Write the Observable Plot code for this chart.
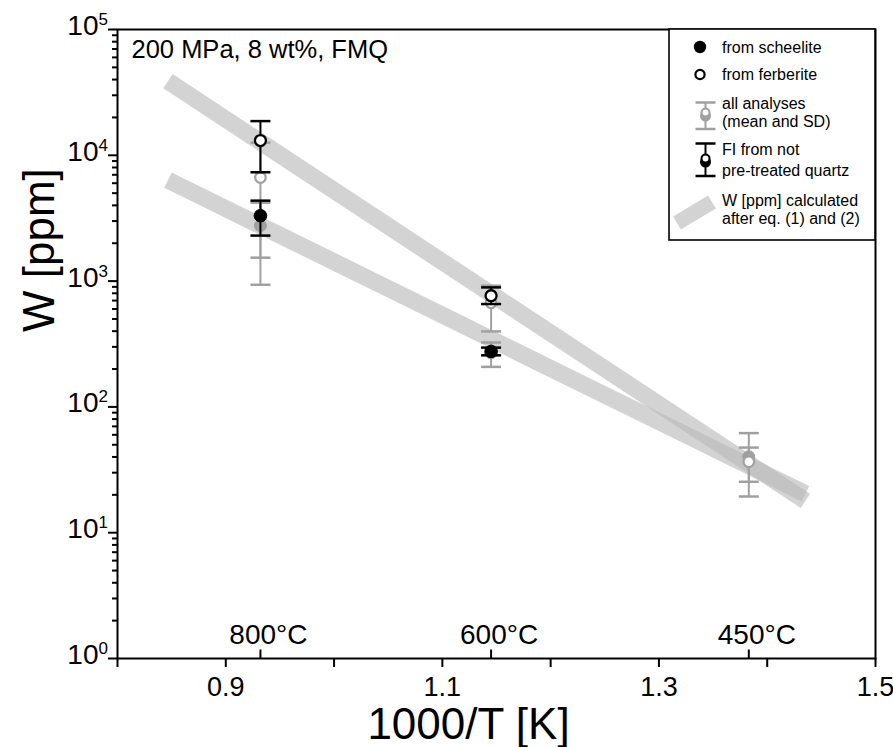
<!DOCTYPE html>
<html><head><meta charset="utf-8">
<script src="https://cdn.jsdelivr.net/npm/d3@7"></script>
<script src="https://cdn.jsdelivr.net/npm/@observablehq/plot@0.6"></script>
<style>
body{margin:0;background:#fff;}
#chart{position:relative;width:893px;height:747px;}
</style></head><body><div id="chart"></div>
<script>
const FONT = '"Liberation Sans", Arial, Helvetica, sans-serif';

// temperature markers (1000/T)
const tempLabels = ["800°C", "600°C", "450°C"];
const tempInvT = [0.932, 1.145, 1.383];

// FI from not pre-treated quartz (black)
const fiScheeliteX = [0.932, 1.145];
const fiScheeliteW = [3310, 276];
const fiScheeliteLo = [2300, 257];
const fiScheeliteHi = [4360, 296];
const fiFerberiteX = [0.932, 1.145];
const fiFerberiteW = [13100, 765];
const fiFerberiteLo = [7330, 657];
const fiFerberiteHi = [18700, 891];

// all analyses, mean and SD (gray)
const allScheeliteX = [0.932, 1.145, 1.383];
const allScheeliteW = [2760, 269, 40.1];
const allScheeliteLo = [935, 208, 19.4];
const allScheeliteHi = [4200, 325, 61.9];
const allFerberiteX = [0.932, 1.145, 1.383];
const allFerberiteW = [6650, 673, 36.6];
const allFerberiteLo = [1535, 398, 25.4];
const allFerberiteHi = [12600, 919, 47.5];

// W calculated after eq. (1) and (2)
const calcFerberiteX = [0.8466, 1.4353];
const calcFerberiteW = [38900, 17.9];
const calcScheeliteX = [0.8466, 1.4353];
const calcScheeliteW = [6350, 20.4];

// axes
const xTicks = [0.8, 0.9, 1.0, 1.1, 1.2, 1.3, 1.4, 1.5];
const xTickLabels = ["", "0.9", "", "1.1", "", "1.3", "", "1.5"];
const yMajorTicks = [1, 10, 100, 1000, 10000, 100000];
const yExponents = ["0", "1", "2", "3", "4", "5"];
const yMinorTicks = [2,3,4,5,6,7,8,9, 20,30,40,50,60,70,80,90, 200,300,400,500,600,700,800,900,
  2000,3000,4000,5000,6000,7000,8000,9000, 20000,30000,40000,50000,60000,70000,80000,90000];

const annotation = "200 MPa, 8 wt%, FMQ";
const xTitle = "1000/T [K]";
const yTitle = "W [ppm]";
const legendLabels = ["from scheelite", "from ferberite", "all analyses", "(mean and SD)",
  "FI from not", "pre-treated quartz", "W [ppm] calculated", "after eq. (1) and (2)"];

const rows = (X, W, lo, hi) => X.map((x, i) => ({x, w: W[i], lo: lo ? lo[i] : null, hi: hi ? hi[i] : null}));
const fiS = rows(fiScheeliteX, fiScheeliteW, fiScheeliteLo, fiScheeliteHi);
const fiF = rows(fiFerberiteX, fiFerberiteW, fiFerberiteLo, fiFerberiteHi);
const allS = rows(allScheeliteX, allScheeliteW, allScheeliteLo, allScheeliteHi);
const allF = rows(allFerberiteX, allFerberiteW, allFerberiteLo, allFerberiteHi);
const calcF = rows(calcFerberiteX, calcFerberiteW);
const calcS = rows(calcScheeliteX, calcScheeliteW);

const GRAY = "#a0a0a0";
const capSym = {draw(ctx) { ctx.moveTo(-10, 0); ctx.lineTo(10, 0); }};
const upTick = {draw(ctx) { ctx.moveTo(0, 0); ctx.lineTo(0, -9); }};
const labelMap = new Map(xTicks.map((t, i) => [t.toFixed(1), xTickLabels[i]]));

function errorBars(data, color) {
  return [
    Plot.ruleX(data, {x: "x", y1: "lo", y2: "hi", stroke: color, strokeWidth: 2}),
    Plot.dot(data, {x: "x", y: "lo", symbol: capSym, stroke: color, strokeWidth: 2.5, fill: "none"}),
    Plot.dot(data, {x: "x", y: "hi", symbol: capSym, stroke: color, strokeWidth: 2.5, fill: "none"})
  ];
}

const plot = Plot.plot({
  width: 893, height: 747,
  marginLeft: 117, marginRight: 18, marginTop: 29, marginBottom: 89,
  style: {fontFamily: FONT, background: "white", color: "black"},
  x: {domain: [0.8, 1.5], label: null},
  y: {type: "log", domain: [1, 100000], label: null},
  marks: [
    // calculated bands
    Plot.line(calcF, {x: "x", y: "w", stroke: "#bababa", strokeOpacity: 0.63, strokeWidth: 17, strokeLinecap: "butt"}),
    Plot.line(calcS, {x: "x", y: "w", stroke: "#bababa", strokeOpacity: 0.63, strokeWidth: 17, strokeLinecap: "butt"}),
    // all analyses
    ...errorBars(allF, GRAY),
    ...errorBars(allS, GRAY),
    Plot.dot(allS, {x: "x", y: "w", r: 6, fill: GRAY, stroke: GRAY, strokeWidth: 1}),
    Plot.dot(allF, {x: "x", y: "w", r: 5.3, fill: "white", stroke: GRAY, strokeWidth: 2.2}),
    // FI from not pre-treated quartz
    ...errorBars(fiF, "black"),
    ...errorBars(fiS, "black"),
    Plot.dot(fiS, {x: "x", y: "w", r: 6.3, fill: "black", stroke: "black", strokeWidth: 1}),
    Plot.dot(fiF, {x: "x", y: "w", r: 5.5, fill: "white", stroke: "black", strokeWidth: 2.3}),
    // frame and axes
    Plot.frame({stroke: "black", strokeWidth: 2}),
    Plot.axisX(xTicks, {tickSize: 9, tickPadding: 9, strokeWidth: 2, fontSize: 27, label: null,
      tickFormat: d => labelMap.get((+d).toFixed(1)) ?? ""}),
    Plot.axisY(yMajorTicks, {tickSize: 9, strokeWidth: 2, label: null, tickFormat: () => ""}),
    Plot.axisY(yMinorTicks, {tickSize: 5, strokeWidth: 2, label: null, tickFormat: () => ""}),
    Plot.text(yMajorTicks, {frameAnchor: "left", y: d => d, text: () => "10", textAnchor: "end",
      dx: -19, dy: -3.5, fontSize: 28}),
    Plot.text(yMajorTicks, {frameAnchor: "left", y: d => d, text: (d, i) => yExponents[i], textAnchor: "start",
      dx: -19, dy: -10, fontSize: 17}),
    // temperature markers
    Plot.dot(tempInvT, {x: d => d, frameAnchor: "bottom", symbol: upTick, stroke: "black", strokeWidth: 2, fill: "none"}),
    Plot.text(tempLabels, {x: (d, i) => tempInvT[i], frameAnchor: "bottom", lineAnchor: "bottom",
      dy: -15, dx: 8, fontSize: 28, text: d => d}),
    // annotation and titles
    Plot.text([annotation], {frameAnchor: "top-left", textAnchor: "start", lineAnchor: "bottom",
      dx: 14, dy: 28, fontSize: 25.5, text: d => d}),
    Plot.text([xTitle], {frameAnchor: "bottom", lineAnchor: "bottom", dx: -28, dy: 80, fontSize: 44, text: d => d}),
    Plot.text([yTitle], {frameAnchor: "left", lineAnchor: "bottom", rotate: -90, dx: -64, dy: -12, fontSize: 44, text: d => d})
  ]
});

// legend
const svg = d3.select(plot);
const lg = svg.append("g").attr("font-family", FONT).attr("font-size", 16).attr("text-anchor", "start");
lg.append("rect").attr("x", 669).attr("y", 29).attr("width", 206).attr("height", 211)
  .attr("fill", "white").attr("stroke", "black").attr("stroke-width", 1.6);
const legendY = [52.5, 80, 109, 126.5, 155, 176, 206, 224];
legendLabels.forEach((t, i) => lg.append("text").attr("x", 722).attr("y", legendY[i])
  .attr("fill", "black").attr("text-anchor", "start").text(t));
lg.append("circle").attr("cx", 700).attr("cy", 47).attr("r", 6.2).attr("fill", "black");
lg.append("circle").attr("cx", 700).attr("cy", 74.5).attr("r", 4.6).attr("fill", "white").attr("stroke", "black").attr("stroke-width", 2.2);
function legendBar(g, cx, y1, y2, cy, color) {
  g.append("line").attr("x1", cx).attr("x2", cx).attr("y1", y1).attr("y2", y2).attr("stroke", color).attr("stroke-width", 2);
  [y1, y2].forEach(y => g.append("line").attr("x1", cx - 10).attr("x2", cx + 10).attr("y1", y).attr("y2", y)
    .attr("stroke", color).attr("stroke-width", 2.5));
  g.append("circle").attr("cx", cx).attr("cy", cy + 2).attr("r", 5.5).attr("fill", color);
  g.append("circle").attr("cx", cx).attr("cy", cy - 1.5).attr("r", 4).attr("fill", "white").attr("stroke", color).attr("stroke-width", 2);
}
legendBar(lg, 705.5, 102.5, 129, 114, GRAY);
legendBar(lg, 705.5, 143.5, 176, 160, "black");
lg.append("line").attr("x1", 677).attr("y1", 223).attr("x2", 712).attr("y2", 202)
  .attr("stroke", "#d3d3d3").attr("stroke-width", 15);

document.getElementById("chart").append(plot);
</script></body></html>
